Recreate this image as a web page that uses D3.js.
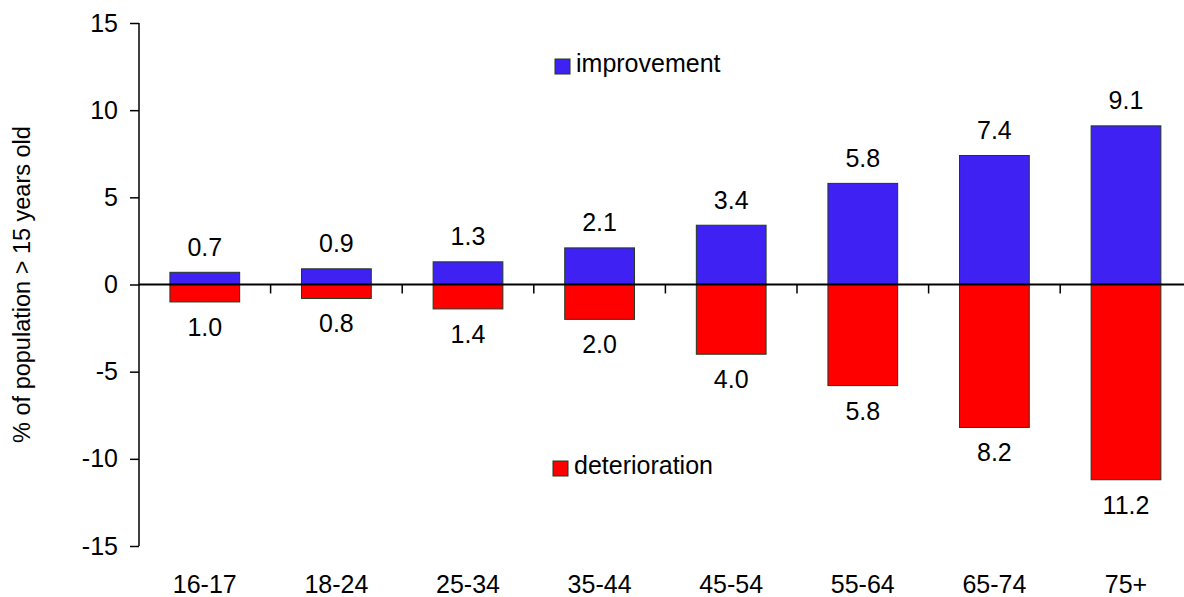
<!DOCTYPE html>
<html>
<head>
<meta charset="utf-8">
<script src="https://cdn.jsdelivr.net/npm/d3@7"></script>
<style>
  body { margin: 0; background: #fff; }
  text { font-family: "Liberation Sans", Arial, sans-serif; fill: #000; }
</style>
</head>
<body>
<div id="chart"></div>
<script>
const ageGroups = ['16-17', '18-24', '25-34', '35-44', '45-54', '55-64', '65-74', '75+'];
const improvement = [0.7, 0.9, 1.3, 2.1, 3.4, 5.8, 7.4, 9.1];
const deterioration = [1.0, 0.8, 1.4, 2.0, 4.0, 5.8, 8.2, 11.2];
const yTicks = [-15, -10, -5, 0, 5, 10, 15];

const width = 1184, height = 597;
const left = 139, step = 131.6;
const fontSize = 25;

const x = d3.scaleBand()
    .domain(ageGroups)
    .range([left, left + step * ageGroups.length])
    .padding(0);
const y = d3.scaleLinear().domain([-15, 15]).range([546, 23]);

const barW = x.bandwidth() * 0.53;
const blue = '#3f22f3', red = '#ff0000';

const svg = d3.select('#chart').append('svg')
    .attr('width', width).attr('height', height);

// y axis
const yAxis = svg.append('g')
    .attr('transform', `translate(${left},0)`)
    .call(d3.axisLeft(y).tickValues(yTicks).tickSize(9).tickPadding(12)
        .tickFormat(d => String(d)));
yAxis.select('.domain').attr('stroke', '#000').attr('stroke-width', 1.5)
    .attr('d', `M0,${y(15)}V${y(-15)}`);
yAxis.selectAll('.tick line').attr('stroke', '#000').attr('stroke-width', 1.5);
yAxis.selectAll('.tick text').attr('font-size', fontSize)
    .style('font-family', '"Liberation Sans", Arial, sans-serif').attr('fill', '#000');

svg.append('text')
    .attr('transform', `translate(30,${(y(15) + y(-15)) / 2}) rotate(-90)`)
    .attr('text-anchor', 'middle')
    .attr('font-size', 23.5)
    .text('% of population > 15 years old');

// bars
const bars = svg.append('g').attr('stroke', '#1f3a1f').attr('stroke-width', 1);
bars.selectAll('rect.up')
    .data(ageGroups)
    .join('rect')
    .attr('class', 'up')
    .attr('x', d => x(d) + (x.bandwidth() - barW) / 2)
    .attr('width', barW)
    .attr('y', (d, i) => y(improvement[i]))
    .attr('height', (d, i) => y(0) - y(improvement[i]))
    .attr('fill', blue);
bars.selectAll('rect.down')
    .data(ageGroups)
    .join('rect')
    .attr('class', 'down')
    .attr('x', d => x(d) + (x.bandwidth() - barW) / 2)
    .attr('width', barW)
    .attr('y', y(0))
    .attr('height', (d, i) => y(-deterioration[i]) - y(0))
    .attr('fill', red);

// zero line + category ticks
svg.append('line')
    .attr('x1', left).attr('x2', width)
    .attr('y1', y(0)).attr('y2', y(0))
    .attr('stroke', '#000').attr('stroke-width', 2);
svg.append('g').selectAll('line')
    .data(ageGroups.slice(1))
    .join('line')
    .attr('x1', d => x(d)).attr('x2', d => x(d))
    .attr('y1', y(0)).attr('y2', y(0) + 9)
    .attr('stroke', '#000').attr('stroke-width', 1.5);

// value labels
const fmt = d3.format('.1f');
svg.append('g').selectAll('text')
    .data(ageGroups)
    .join('text')
    .attr('x', d => x(d) + x.bandwidth() / 2)
    .attr('y', (d, i) => y(improvement[i]) - 16.5)
    .attr('text-anchor', 'middle')
    .attr('font-size', fontSize)
    .text((d, i) => fmt(improvement[i]));
svg.append('g').selectAll('text')
    .data(ageGroups)
    .join('text')
    .attr('x', d => x(d) + x.bandwidth() / 2)
    .attr('y', (d, i) => y(-deterioration[i]) + 34)
    .attr('text-anchor', 'middle')
    .attr('font-size', fontSize)
    .text((d, i) => fmt(deterioration[i]));

// category labels
svg.append('g').selectAll('text')
    .data(ageGroups)
    .join('text')
    .attr('x', d => x(d) + x.bandwidth() / 2)
    .attr('y', 593)
    .attr('text-anchor', 'middle')
    .attr('font-size', fontSize)
    .text(d => d);

// legend
const legend = [
    {name: 'improvement', color: blue, x: 555, y: 59},
    {name: 'deterioration', color: red, x: 553, y: 461}
];
const lg = svg.append('g').selectAll('g')
    .data(legend)
    .join('g')
    .attr('transform', d => `translate(${d.x},${d.y})`);
lg.append('rect')
    .attr('width', 15).attr('height', 15)
    .attr('fill', d => d.color)
    .attr('stroke', '#1f3a1f').attr('stroke-width', 1);
lg.append('text')
    .attr('x', 21).attr('y', 13)
    .attr('font-size', fontSize)
    .text(d => d.name);
</script>
</body>
</html>
